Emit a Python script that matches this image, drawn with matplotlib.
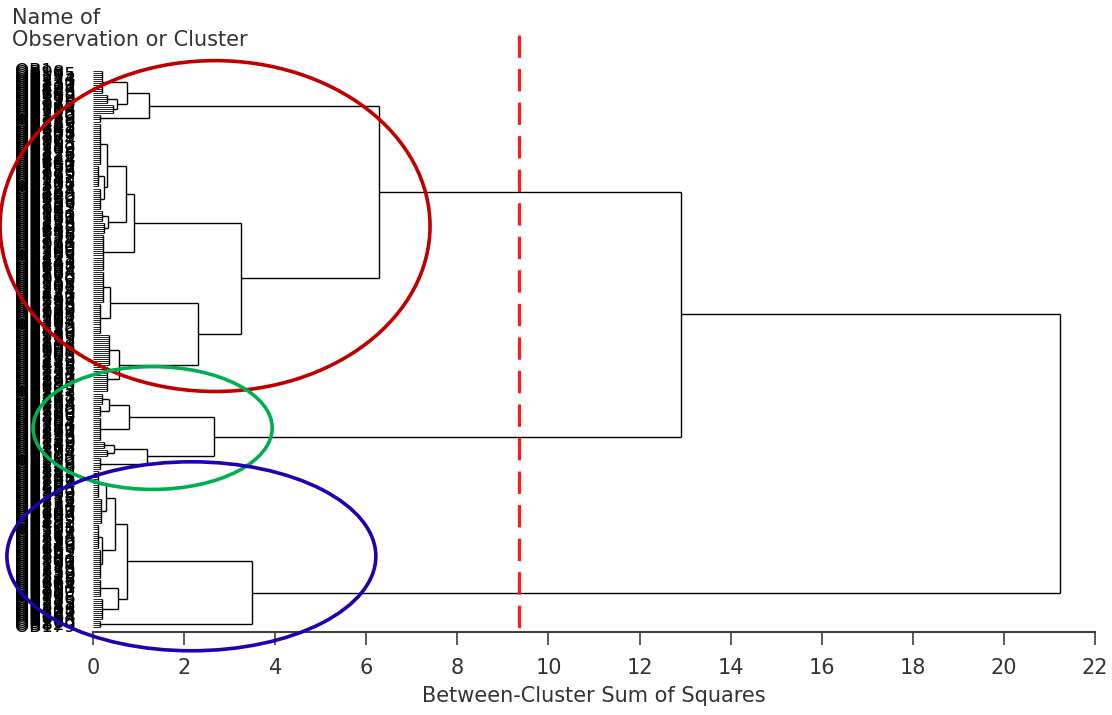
import matplotlib
matplotlib.use('Agg')
import matplotlib.pyplot as plt
from matplotlib.patches import Ellipse
import numpy as np

plt.rcParams['font.family'] = ['DejaVu Sans']

# leaf bundles, top to bottom: height where the bundle joins, and its size
bundle_height = [0.19, 0.30, 0.45, 0.15, 0.15, 0.12, 0.16, 0.20, 0.25, 0.22,
                 0.22, 0.16, 0.35, 0.30, 0.20, 0.15, 0.15, 0.25, 0.30, 0.15,
                 0.12, 0.18, 0.12, 0.15, 0.16, 0.19, 0.15]
bundle_size = [12, 5, 5, 4, 21, 11, 11, 6, 6, 18,
               16, 15, 16, 13, 6, 6, 12, 4, 4, 6,
               14, 13, 12, 15, 9, 11, 4]

# merges in linkage style: ids < 27 are bundles, later ids are earlier merges
merge_left = [1, 0, 28, 5, 4, 7, 31, 33, 10, 12, 35, 34, 29, 14, 40, 17, 42,
              41, 39, 20, 22, 46, 24, 48, 50, 45]
merge_right = [2, 27, 3, 6, 30, 8, 32, 9, 11, 13, 36, 37, 38, 15, 16, 18, 19,
               43, 44, 21, 23, 47, 25, 49, 26, 51]
merge_height = [0.52, 0.75, 1.24, 0.24, 0.30, 0.34, 0.72, 0.91, 0.37, 0.58,
                2.30, 3.25, 6.28, 0.36, 0.78, 0.46, 1.18, 2.66, 12.90, 0.28,
                0.20, 0.48, 0.54, 0.75, 3.50, 21.23]

cut_height = 9.35
xticks = list(range(0, 23, 2))

n_leaves = sum(bundle_size)
leaf_names = ['OB%d' % k for k in (np.arange(n_leaves) * 97) % n_leaves + 1]

fig = plt.figure(figsize=(11.12, 7.15), dpi=100)
ax = fig.add_axes([93 / 1112, 83 / 715, 1002 / 1112, 597 / 715])

line_kw = dict(color='black', lw=1.0, zorder=2)
pos = {}
top = {}
leaf = 0
for b, (h, cnt) in enumerate(zip(bundle_height, bundle_size)):
    ys = np.arange(leaf, leaf + cnt)
    ax.hlines(ys, 0, h, color='black', lw=0.6, zorder=2)
    ax.vlines(h, ys[0], ys[-1], **line_kw)
    pos[b] = ys.mean()
    top[b] = h
    leaf += cnt

for k, (a, c, h) in enumerate(zip(merge_left, merge_right, merge_height)):
    node = len(bundle_size) + k
    ax.hlines([pos[a], pos[c]], [top[a], top[c]], h, **line_kw)
    ax.vlines(h, pos[a], pos[c], **line_kw)
    pos[node] = (pos[a] + pos[c]) / 2
    top[node] = h

# observation names, overlapping into solid columns
for i, name in enumerate(leaf_names):
    ax.text(-1.71, i, name, ha='left', va='center', fontsize=13,
            family='DejaVu Sans', color='black', clip_on=False)

# cut line, dashes start at the top
ax.plot([cut_height, cut_height], [1, 0], transform=ax.get_xaxis_transform(),
        color='#ff1a1a', lw=2.3, ls=(0, (7, 3.5)), zorder=4)

# cluster rings
rings = [((2.68, 76.5), 9.44, 163, '#c00000'),
         ((1.31, 176.0), 5.25, 60.5, '#00b050'),
         ((2.16, 239.2), 8.10, 93.1, '#2000b0')]
for (cx, cy), w, hgt, col in rings:
    ax.add_patch(Ellipse((cx, cy), w, hgt, fill=False, ec=col, lw=2.6,
                         clip_on=False, zorder=5))

ax.set_xlim(0, 22)
ax.set_ylim(n_leaves + 1.5, -17.5 * n_leaves / 273)
ax.set_yticks([])
for s in ['left', 'top', 'right']:
    ax.spines[s].set_visible(False)
ax.spines['bottom'].set_color('#404040')
ax.spines['bottom'].set_linewidth(1.5)
ax.set_xticks(xticks)
ax.set_xticklabels([str(t) for t in xticks])
ax.tick_params(axis='x', direction='out', length=9.5, width=1.2,
               color='#404040', pad=9, labelsize=15, labelcolor='#333333')
ax.set_xlabel('Between-Cluster Sum of Squares', fontsize=15,
              color='#333333', labelpad=6)

fig.text(12 / 1112, 1 - 8 / 715, 'Name of\nObservation or Cluster',
         ha='left', va='top', fontsize=15, color='#333333', linespacing=1.15)

fig.savefig('out.png', dpi=100)
